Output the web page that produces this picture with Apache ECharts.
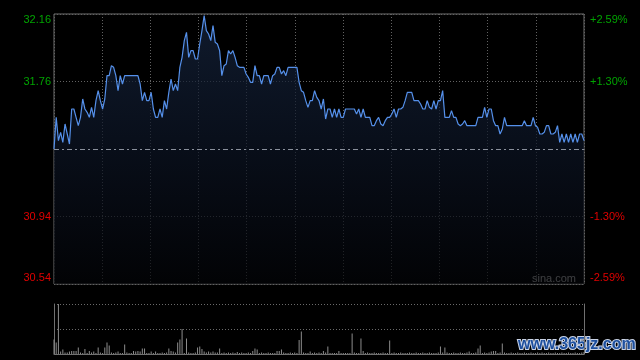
<!DOCTYPE html>
<html><head><meta charset="utf-8">
<script src="https://cdn.jsdelivr.net/npm/echarts@6/dist/echarts.min.js"></script>
<style>html,body{margin:0;padding:0;background:#000}#c{width:640px;height:360px}</style>
</head><body><div id="c"></div>
<script>
const prevClose = 31.35;
const prices = [
31.35,31.54,31.40,31.45,31.39,31.50,31.44,31.38,31.59,31.59,31.54,31.49,31.54,31.65,31.59,31.57,31.54,31.60,31.54,31.64,
31.70,31.64,31.59,31.65,31.79,31.79,31.85,31.84,31.79,31.70,31.79,31.74,31.79,31.79,31.79,31.79,31.79,31.79,31.79,31.74,
31.64,31.69,31.64,31.64,31.69,31.59,31.54,31.54,31.59,31.54,31.64,31.59,31.69,31.77,31.70,31.74,31.70,31.84,31.90,32.00,
32.05,31.90,31.94,31.94,31.89,31.89,31.98,32.06,32.15,32.06,32.04,32.00,32.09,31.99,31.98,31.94,31.79,31.85,31.86,31.94,
31.92,31.94,31.90,31.85,31.84,31.84,31.84,31.80,31.78,31.75,31.75,31.85,31.79,31.79,31.74,31.79,31.79,31.79,31.74,31.79,
31.80,31.84,31.84,31.80,31.82,31.79,31.84,31.84,31.84,31.84,31.84,31.75,31.70,31.69,31.64,31.60,31.64,31.64,31.70,31.66,
31.64,31.59,31.65,31.53,31.59,31.59,31.54,31.59,31.54,31.59,31.54,31.54,31.59,31.59,31.59,31.59,31.59,31.56,31.59,31.54,
31.59,31.54,31.54,31.54,31.49,31.49,31.52,31.54,31.50,31.49,31.52,31.54,31.54,31.56,31.59,31.54,31.59,31.59,31.60,31.64,
31.69,31.69,31.69,31.64,31.64,31.64,31.62,31.59,31.59,31.64,31.60,31.59,31.64,31.59,31.64,31.64,31.70,31.54,31.54,31.54,
31.58,31.54,31.54,31.50,31.49,31.50,31.52,31.49,31.49,31.49,31.49,31.49,31.54,31.54,31.54,31.60,31.54,31.59,31.59,31.52,
31.49,31.49,31.44,31.47,31.54,31.49,31.49,31.49,31.49,31.49,31.49,31.49,31.49,31.52,31.49,31.49,31.49,31.54,31.49,31.48,
31.44,31.44,31.45,31.49,31.49,31.44,31.44,31.45,31.49,31.39,31.44,31.39,31.44,31.39,31.44,31.39,31.44,31.39,31.44,31.44,31.40
];
const volumes = [
29,23,100,5,9,3,3,5,6,6,6,13,3,2,10,2,6,3,5,2,
13,3,2,13,23,17,3,2,3,5,2,2,19,3,2,2,6,5,6,5,
11,11,2,2,5,2,5,2,2,3,2,3,11,6,5,3,23,29,50,2,
31,3,2,2,3,13,15,10,5,3,5,3,5,3,3,11,2,3,2,3,
2,3,2,4,2,3,2,2,3,2,6,11,9,2,3,2,2,3,2,2,
2,6,6,9,3,2,2,3,2,3,2,28,45,3,2,2,5,2,3,2,
3,2,6,3,15,2,2,2,2,6,2,2,2,2,2,41,3,2,2,31,
6,2,3,2,2,3,2,2,2,3,2,2,27,2,3,2,2,3,2,2,
2,3,2,2,3,2,2,3,2,2,3,2,2,2,3,15,3,13,3,2,
2,3,2,2,3,2,2,3,5,2,2,3,11,17,2,3,2,3,5,6,
6,2,3,21,3,2,2,3,2,2,3,2,2,3,2,2,3,2,2,3,
2,3,2,2,3,2,2,3,2,2,3,2,2,3,2,2,3,2,2,3,4
];
const leftLabels = ['30.54','30.94','','31.76','32.16'];
const rightLabels = ['-2.59%','-1.30%','','+1.30%','+2.59%'];
const labelKinds = ['rb','rm','','gm','gt'];
const rangeCents = 81;
const stepCents = 40.5;
const sourceText = 'sina.com';
const watermarkText = 'www.365jz.com';

const GREEN = '#00a400', RED = '#e00000';
const baseFont = {fontFamily:'Arial, "Liberation Sans", sans-serif', fontSize:11};
const rich = {
  gt: Object.assign({color:GREEN, padding:[12,0,0,0]}, baseFont),
  gm: Object.assign({color:GREEN}, baseFont),
  rm: Object.assign({color:RED}, baseFont),
  rb: Object.assign({color:RED, padding:[0,0,12,0]}, baseFont)
};
function fmt(arr){
  return function(v){
    const k = Math.round((v + rangeCents) / stepCents);
    const t = arr[k];
    if (!t) return '';
    return '{' + labelKinds[k] + '|' + t + '}';
  };
}
const N = prices.length - 1;
const chart = echarts.init(document.getElementById('c'), null, {renderer:'canvas'});
chart.setOption({
  backgroundColor:'#000',
  animation:false,
  grid:[
    {left:54, right:56, top:14, height:270, show:true, borderColor:'#707070', borderWidth:1, backgroundColor:'transparent'},
    {left:54, right:56, top:304, height:50, show:false}
  ],
  xAxis:[
    {gridIndex:0, type:'value', min:0, max:N, interval:N/11,
     axisLine:{show:false}, axisTick:{show:false}, axisLabel:{show:false},
     splitLine:{show:true, lineStyle:{color:'#626262', type:[1,2], width:1}}},
    {gridIndex:1, type:'value', min:0, max:N,
     axisLine:{show:true, onZero:false, lineStyle:{color:'#707070'}}, axisTick:{show:false}, axisLabel:{show:false},
     splitLine:{show:false}}
  ],
  yAxis:[
    {gridIndex:0, type:'value', min:-rangeCents, max:rangeCents, interval:stepCents,
     axisLine:{show:false}, axisTick:{show:false},
     axisLabel:{show:true, margin:3, formatter:fmt(leftLabels), rich:rich},
     splitLine:{show:true, lineStyle:{color:['#626262','#626262','rgba(0,0,0,0)','#626262','#626262'], type:[1,2], width:1}}},
    {gridIndex:0, type:'value', position:'right', min:-rangeCents, max:rangeCents, interval:stepCents,
     axisLine:{show:false}, axisTick:{show:false},
     axisLabel:{show:true, margin:6, formatter:fmt(rightLabels), rich:rich},
     splitLine:{show:false}},
    {gridIndex:1, type:'value', min:0, max:100, interval:50,
     axisLine:{show:true, lineStyle:{color:'#707070'}}, axisTick:{show:false}, axisLabel:{show:false},
     splitLine:{show:true, lineStyle:{color:['rgba(0,0,0,0)','#6a6a6a','#6a6a6a'], type:[1,2], width:1}}},
    {gridIndex:1, type:'value', position:'right', min:0, max:100, interval:50,
     axisLine:{show:true, lineStyle:{color:'#707070'}}, axisTick:{show:false}, axisLabel:{show:false},
     splitLine:{show:false}}
  ],
  series:[
    {type:'line', xAxisIndex:0, yAxisIndex:0, showSymbol:false, symbol:'none',
     data: prices.map((p,i)=>[i, (p - prevClose)*100]),
     lineStyle:{color:'#5590ea', width:1.2},
     areaStyle:{origin:'start', color:new echarts.graphic.LinearGradient(0,0,0,1,[
        {offset:0, color:'#16253f'},{offset:0.5, color:'#0c1424'},{offset:1, color:'#030407'}])},
     markLine:{silent:true, symbol:'none', label:{show:false},
       lineStyle:{color:'#8a909c', type:[5,3,2,3], width:1},
       data:[{yAxis:0}]}
    },
    {type:'bar', xAxisIndex:1, yAxisIndex:2, barWidth:1,
     data: volumes.map((v,i)=>[i, v]),
     itemStyle:{color:'#8c8c8c'}}
  ],
  graphic:[
    {type:'text', left:532, top:273, style:{text:sourceText, fill:'#c4c4c4', font:'11px Arial, "Liberation Sans", sans-serif'}},
    {type:'text', left:517, top:336, style:{text:watermarkText, fill:'#1d4f9e', stroke:'#c9d3e6', lineWidth:2,
      font:'bold 16px Arial, "Liberation Sans", sans-serif'}}
  ]
});
</script>
</body></html>
